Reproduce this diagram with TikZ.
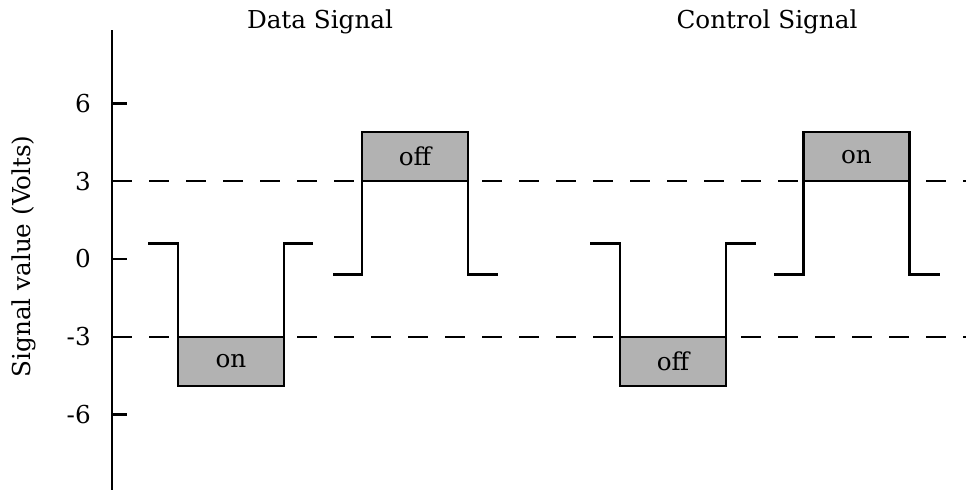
\documentclass[tikz,border=0pt]{standalone}
\usepackage{fontspec}
\setmainfont{DejaVu Serif}
\usepackage{tikz}

\begin{document}
\begin{tikzpicture}[x=0.75pt,y=19.44pt,
		sig/.style={line width=1.6pt},
		lvl/.style={line width=1.6pt, dash pattern=on 15pt off 12.75pt},
		txt/.style={font=\fontsize{18.5}{22}\selectfont, inner sep=0pt},
		bit/.style={txt, draw, line width=1.6pt, fill=black!30, minimum width=79.5pt, minimum height=36.9pt, outer sep=0pt}]
			%%%%% START %%%%%
			\useasboundingbox (0,-8.912) rectangle (966,9.992);
			
			% axis and levels
			\draw[sig] (112,8.83) -- (112,-8.95);
			\foreach \v/\n in {6/a,3/b,0/c,-3/d,-6/e} {
				\draw[sig] (112,\v) -- (127,\v);
				\node[txt, anchor=east] (tick\n) at (91,\v) {\v};
			}
			\draw[lvl] (112,3) -- (966,3);
			\draw[lvl] (112,-3) -- (966,-3);
			
			\node[txt, rotate=90] (ylab) at (24,0.1) {Signal value (Volts)};
			\node[txt, anchor=base] (datatitle) at (320,8.91) {Data Signal};
			\node[txt, anchor=base] (ctrltitle) at (767,8.91) {Control Signal};
			
			% data signal
			\node[bit] (dataon) at (231,-3.95) {on};
			\draw[sig] (148,0.6) -| (dataon.north west);
			\draw[sig] (dataon.north east) |- (313,0.6);
			\node[bit] (dataoff) at (415,3.95) {off};
			\draw[sig] (333,-0.6) -| (dataoff.south west);
			\draw[sig] (dataoff.south east) |- (498,-0.6);
			
			% control signal
			\node[bit] (ctrloff) at (673,-3.95) {off};
			\draw[sig] (590,0.6) -| (ctrloff.north west);
			\draw[sig] (ctrloff.north east) |- (756,0.6);
			\node[bit] (ctrlon) at (856.5,3.95) {on};
			\draw[sig] (774,-0.6) -| (ctrlon.south west);
			\draw[sig] (ctrlon.south east) |- (940,-0.6);
			
			%%%%% END %%%%%
		\end{tikzpicture}
\end{document}
